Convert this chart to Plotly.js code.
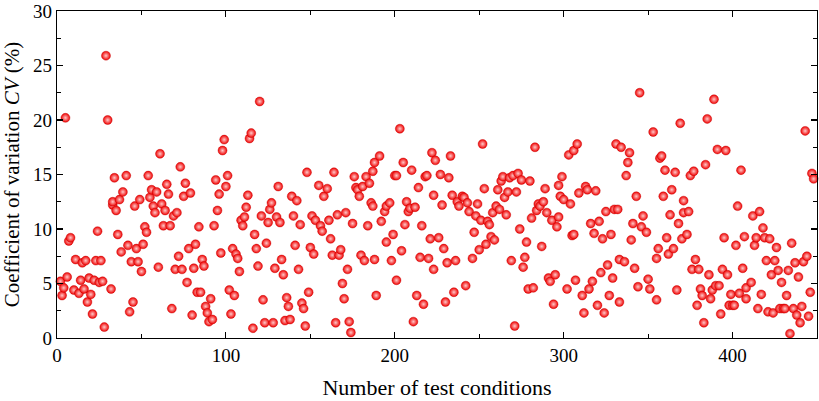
<!DOCTYPE html>
<html>
<head>
<meta charset="utf-8">
<script src="https://cdn.plot.ly/plotly-3.0.1.min.js"></script>
<style>html,body{margin:0;padding:0;background:#fff;}#chart{width:819px;height:401px;}</style>
</head>
<body>
<div id="chart"></div>
<script>
// Test condition numbers (x) and CV values (%)
const conditionNo = [
2,3,4,5,6,7,8,10,11,13,14,15,16,17,18,19,20,21,22,23,24,25,26,27,28,29,30,
32,33,33,34,35,36,37,38,39,41,42,43,44,45,46,47,48,49,50,51,52,53,54,55,56,57,58,59,60,
61,62,63,64,65,66,67,68,69,70,71,72,73,74,75,76,77,78,79,80,81,82,83,84,85,86,87,88,89,90,
91,92,93,94,95,96,97,98,99,100,101,102,103,104,105,106,107,108,109,110,111,112,113,114,115,116,
117,118,119,120,121,122,123,124,125,126,127,128,129,130,131,132,133,134,135,136,137,138,139,140,
141,142,143,144,145,146,147,148,149,150,151,152,153,155,156,157,158,160,161,162,163,164,165,166,
167,168,169,170,171,172,173,174,175,176,177,178,179,180,181,182,183,184,185,186,187,187,188,188,189,
191,192,194,195,195,197,198,199,200,201,201,203,204,205,206,207,208,209,210,211,212,213,214,215,
216,217,218,219,220,221,222,223,223,224,
226,227,228,229,230,231,232,233,234,235,236,237,238,240,241,242,243,244,246,247,248,249,250,251,
252,253,254,255,256,257,258,259,260,261,
262,263,264,265,266,267,268,269,270,271,272,273,274,275,276,277,278,279,280,281,282,283,284,285,
286,287,288,289,290,291,292,293,294,295,296,297,297,298,
299,300,302,303,304,305,306,306,307,308,309,311,312,313,314,315,316,317,318,319,320,321,322,323,
324,325,326,327,328,329,330,331,332,333,333,334,
336,337,338,339,340,341,342,343,344,345,346,347,349,350,351,353,355,355,356,357,358,359,360,361,
362,363,364,365,366,367,368,369,370,371,371,
373,374,375,376,377,378,379,380,381,382,383,384,385,386,387,388,389,390,391,392,393,394,395,396,
397,398,399,400,401,402,403,404,405,406,407,408,408,
411,412,413,414,415,416,417,418,419,420,421,422,423,424,425,426,427,428,429,430,431,432,433,434,
435,436,437,438,439,440,441,442,443,444,445,446,447,448
];
const cvValues = [
5.2,3.9,4.6,20.2,5.6,8.9,9.2,4.4,7.2,4.1,5.3,6.9,4.5,7.1,3.3,5.5,4.0,2.2,5.3,7.1,9.8,5.1,7.1,5.2,1.0,25.9,20.0,
4.5,12.2,12.5,14.7,11.7,9.5,12.7,7.9,13.4,14.9,8.5,2.4,7.0,3.3,12.1,8.2,7.0,12.7,6.1,8.6,10.2,9.7,14.9,12.9,13.6,12.1,11.5,13.4,6.5,
16.9,12.3,10.3,11.7,14.1,13.2,10.3,2.7,11.2,6.3,11.5,7.5,15.7,6.3,13.0,14.2,5.1,8.2,13.3,2.1,6.4,8.6,4.2,10.2,4.2,7.2,6.6,2.9,2.3,1.5,
3.6,1.7,10.3,14.5,11.7,13.2,7.8,17.2,18.2,13.9,14.9,4.4,2.2,8.2,3.9,7.7,7.3,6.1,10.8,10.3,11.1,12.0,13.1,18.3,18.8,0.9,
9.5,8.2,6.6,21.7,11.2,3.5,1.4,8.7,10.6,11.8,12.4,1.4,6.4,11.1,13.9,10.6,7.2,5.8,1.6,3.7,2.9,1.7,13.0,11.2,
8.5,12.6,6.3,10.4,3.2,2.7,1.1,15.2,4.2,8.3,11.2,7.7,10.8,14.0,10.3,9.8,13.0,13.7,10.8,9.1,7.6,15.2,1.4,11.3,
7.6,8.1,5.0,3.6,11.5,6.3,1.5,0.5,10.5,14.8,13.8,13.6,13.0,7.6,13.9,7.1,14.8,10.3,14.2,12.4,15.3,12.1,16.1,7.2,3.9,
16.7,10.7,11.6,12.1,8.8,12.4,7.1,9.5,14.9,5.3,14.9,19.2,8.0,16.1,10.4,12.5,11.6,11.9,15.4,1.5,12.0,3.9,13.8,7.4,
10.3,3.1,14.8,14.9,7.3,9.1,17.0,13.1,6.3,16.3,
9.2,15.0,12.2,8.2,3.3,6.9,14.7,16.7,13.1,4.2,7.1,12.5,12.1,13.0,12.9,4.8,12.4,11.6,7.3,9.7,11.2,12.3,8.1,10.8,
17.8,13.7,8.6,10.7,10.4,9.3,11.5,9.0,12.1,13.6,
11.8,14.4,14.8,12.9,11.3,13.4,14.7,7.1,14.9,1.1,13.4,15.1,10.0,14.5,6.5,7.4,8.8,4.5,14.4,11.0,4.6,17.5,11.7,12.3,
12.1,8.4,12.5,13.7,11.5,5.5,5.2,10.8,3.1,5.8,10.2,14.0,11.1,13.0,
14.8,12.7,4.5,16.8,12.3,9.4,9.5,17.2,5.3,17.8,13.3,3.9,2.3,13.9,13.6,4.5,10.5,5.2,9.6,13.5,3.0,10.7,6.0,9.1,
2.3,11.6,6.7,3.9,9.5,5.5,11.8,17.8,11.8,7.2,3.3,17.5,
7.0,14.9,16.1,17.0,9.0,10.5,6.4,13.0,4.7,22.5,10.2,11.2,9.7,5.4,4.5,18.9,7.3,3.5,8.2,16.5,16.7,13.0,15.4,9.2,
7.7,11.3,13.6,8.2,15.2,4.4,10.5,19.7,9.1,11.5,12.6,
9.5,11.6,14.9,6.3,15.3,7.2,3.0,6.3,4.5,3.9,1.4,15.9,20.1,5.8,3.6,4.4,21.9,4.8,17.3,4.8,2.2,6.3,9.2,17.2,
5.8,3.0,4.0,3.0,3.0,8.5,12.1,4.1,15.4,6.4,9.3,4.6,3.6,
5.1,11.2,8.5,9.2,2.7,11.6,4.0,10.1,9.2,7.1,2.4,9.1,5.8,2.3,7.1,8.3,6.2,2.7,5.1,2.7,2.7,3.9,6.2,0.4,
8.7,2.7,6.9,2.1,5.6,1.4,2.9,7.0,19.0,7.5,2.0,4.2,15.1,14.6
];
const xTickVals = [0,100,200,300,400];
const yTickVals = [0,5,10,15,20,25,30];

const fontFam = '"Liberation Serif", "Times New Roman", serif';
const trace = {
  x: conditionNo,
  y: cvValues,
  type: 'scatter',
  mode: 'markers',
  cliponaxis: false,
  marker: {
    size: 9,
    color: '#f00000',
    gradient: {type: 'radial', color: '#ffc8c8'},
    line: {width: 0.4, color: '#c00000'}
  },
  hoverinfo: 'x+y'
};
const axisCommon = {
  showline: true, linecolor: '#000', linewidth: 1.2, mirror: 'allticks',
  ticks: 'inside', ticklen: 6, tickwidth: 1.2, tickcolor: '#000',
  showgrid: false, zeroline: false, ticklabeloverflow: 'allow',
  tickfont: {family: fontFam, size: 19, color: '#000'}
};
const layout = {
  width: 819, height: 401,
  margin: {l: 57, r: 2, t: 11, b: 63},
  paper_bgcolor: '#fff', plot_bgcolor: '#fff',
  showlegend: false,
  xaxis: Object.assign({}, axisCommon, {
    range: [0, 450], tickvals: xTickVals,
    minor: {dtick: 50, tick0: 0, ticks: 'inside', ticklen: 4, tickwidth: 1.2, tickcolor: '#000', showgrid: false},
    title: {text: 'Number of test conditions', font: {family: fontFam, size: 22, color: '#000'}, standoff: 14}
  }),
  yaxis: Object.assign({}, axisCommon, {
    range: [0, 30], tickvals: yTickVals,
    minor: {dtick: 2.5, tick0: 0, ticks: 'inside', ticklen: 4, tickwidth: 1.2, tickcolor: '#000', showgrid: false},
    title: {text: 'Coefficient of variation <i>CV</i> (%)', font: {family: fontFam, size: 21, color: '#000'}, standoff: 8}
  })
};
Plotly.newPlot('chart', [trace], layout, {displayModeBar: false, staticPlot: true});
</script>
</body>
</html>
